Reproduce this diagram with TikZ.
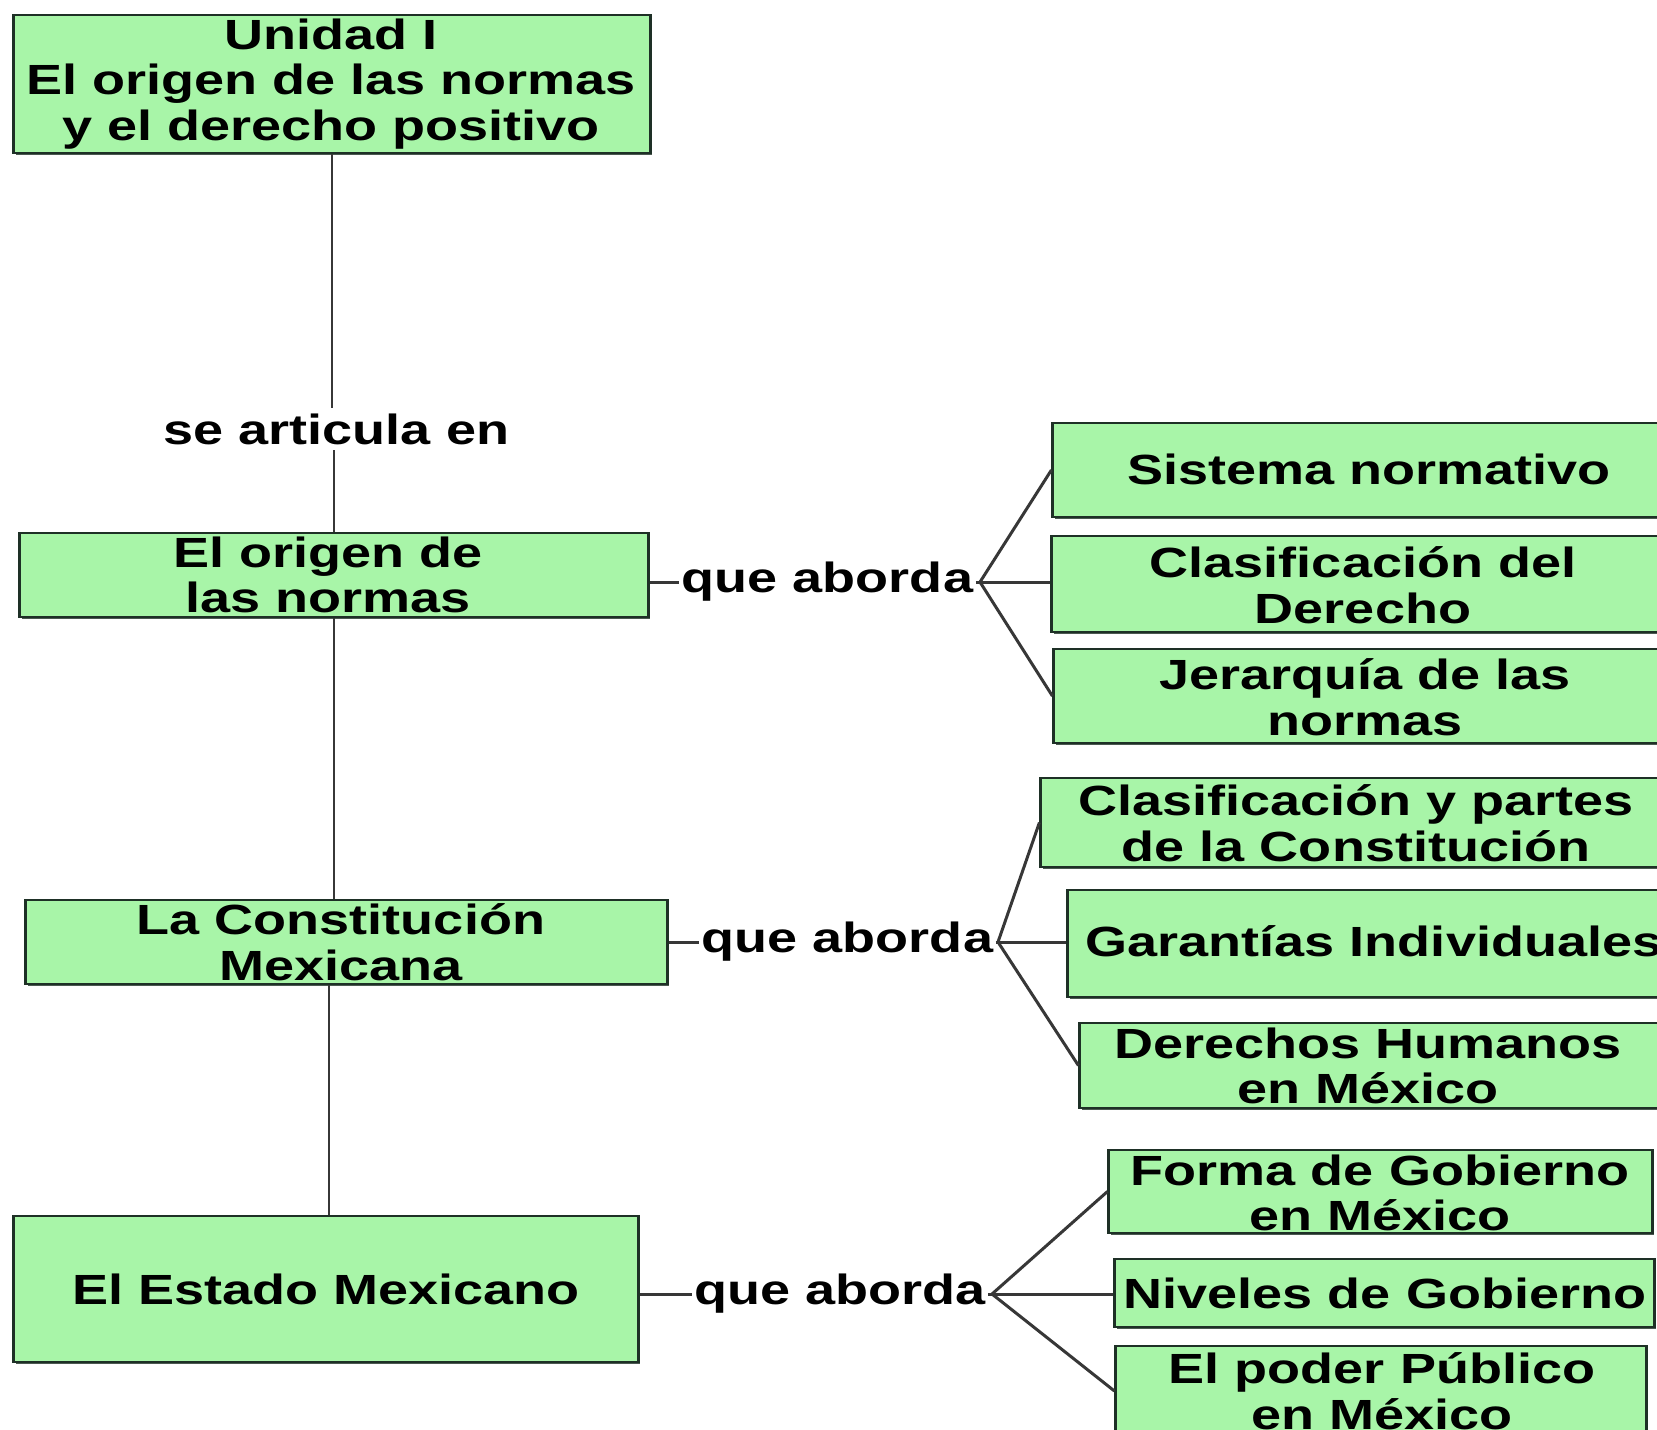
\documentclass[tikz,border=0pt]{standalone}
\usepackage{fontspec}
\setmainfont{Liberation Sans}[FakeStretch=1.28]
\usetikzlibrary{shadows}
\definecolor{boxfill}{RGB}{168,245,168}
\definecolor{boxline}{RGB}{30,48,38}
\definecolor{conline}{RGB}{55,55,55}
\begin{document}
\begin{tikzpicture}[x=0.01cm,y=-0.01cm,
  box/.style={rectangle, draw=boxline, fill=boxfill, line width=0.8pt, inner sep=0pt,
    drop shadow={shadow xshift=0.6pt, shadow yshift=-0.6pt, fill=boxline, opacity=0.8}},
  txt/.style={align=center, inner sep=0pt, font=\fontsize{12}{13}\selectfont\bfseries},
  lbl/.style={inner sep=0.6pt, font=\fontsize{12}{13}\selectfont\bfseries},
  con/.style={draw=conline, line width=0.85pt}]
\useasboundingbox (0,0) rectangle (1657,1429);
\clip (0,0) rectangle (1657,1429);
\fill[white] (0,0) rectangle (1657,1429);

% left column boxes
\node[box, minimum width=6.36cm, minimum height=1.38cm] (A) at (332,84) {};
\node[box, minimum width=6.28cm, minimum height=0.84cm] (B) at (334,575) {};
\node[box, minimum width=6.41cm, minimum height=0.84cm] (C) at (346.5,942) {};
\node[box, minimum width=6.24cm, minimum height=1.46cm] (D) at (326,1289) {};

% right boxes
\node[box, minimum width=6.32cm, minimum height=0.94cm] (R11) at (1369,470) {};
\node[box, minimum width=6.22cm, minimum height=0.96cm] (R12) at (1363,584) {};
\node[box, minimum width=6.22cm, minimum height=0.94cm] (R13) at (1365,696) {};
\node[box, minimum width=6.30cm, minimum height=0.89cm] (R21) at (1356,822.5) {};
\node[box, minimum width=6.12cm, minimum height=1.07cm] (R22) at (1374,943.5) {};
\node[box, minimum width=5.86cm, minimum height=0.85cm] (R23) at (1373,1065.5) {};
\node[box, minimum width=5.43cm, minimum height=0.83cm] (R31) at (1380.5,1191.5) {};
\node[box, minimum width=5.39cm, minimum height=0.68cm] (R32) at (1384.5,1293) {};
\node[box, minimum width=5.30cm, minimum height=0.90cm] (R33) at (1381,1391) {};

% texts
\node[txt] (At) at (331,84) {Unidad I\\El origen de las normas\\y el derecho positivo};
\node[txt] (Bt) at (328,575) {El origen de\\las normas};
\node[txt] (Ct) at (341,942) {La Constitución\\Mexicana};
\node[txt] (Dt) at (326,1289) {El Estado Mexicano};
\node[txt] (R11t) at (1369,469) {Sistema normativo};
\node[txt] (R12t) at (1363,585) {Clasificación del\\Derecho};
\node[txt] (R13t) at (1365,697) {Jerarquía de las\\normas};
\node[txt] (R21t) at (1356,823) {Clasificación y partes\\de la Constitución};
\node[txt] (R22t) at (1374,941) {Garantías Individuales};
\node[txt] (R23t) at (1368,1066) {Derechos Humanos\\en México};
\node[txt] (R31t) at (1380,1193) {Forma de Gobierno\\en México};
\node[txt] (R32t) at (1385,1293) {Niveles de Gobierno};
\node[txt] (R33t) at (1382,1391) {El poder Público\\en México};

% link labels
\node[lbl, inner sep=1.5pt] (L0) at (336.5,429) {se articula en};
\node[lbl] (L1) at (827.5,582) {que aborda};
\node[lbl] (L2) at (847.5,942) {que aborda};
\node[lbl] (L3) at (840,1294) {que aborda};

\coordinate (J1) at (980,582);
\coordinate (J2) at (998,942);
\coordinate (J3) at (992,1294);

% vertical spine
\draw[con] (A.south) -- (A.south |- L0.north);
\draw[con] (B.north |- L0.south) -- (B.north);
\draw[con] (B.south) -- (B.south |- C.north);
\draw[con] ([xshift=0.03cm]D.north |- C.south) -- ([xshift=0.03cm]D.north);

% que aborda links
\draw[con] (L1.west -| B.east) -- (L1.west);
\draw[con] (L1.east) -- (J1);
\draw[con] (J1) -- (R11.west);
\draw[con] (J1) -- (J1 -| R12.west);
\draw[con] (J1) -- (R13.west);

\draw[con] (L2.west -| C.east) -- (L2.west);
\draw[con] (L2.east) -- (J2);
\draw[con] (J2) -- (R21.west);
\draw[con] (J2) -- (J2 -| R22.west);
\draw[con] (J2) -- (R23.west);

\draw[con] (L3.west -| D.east) -- (L3.west);
\draw[con] (L3.east) -- (J3);
\draw[con] (J3) -- (R31.west);
\draw[con] (J3) -- (J3 -| R32.west);
\draw[con] (J3) -- (R33.west);
\end{tikzpicture}
\end{document}
